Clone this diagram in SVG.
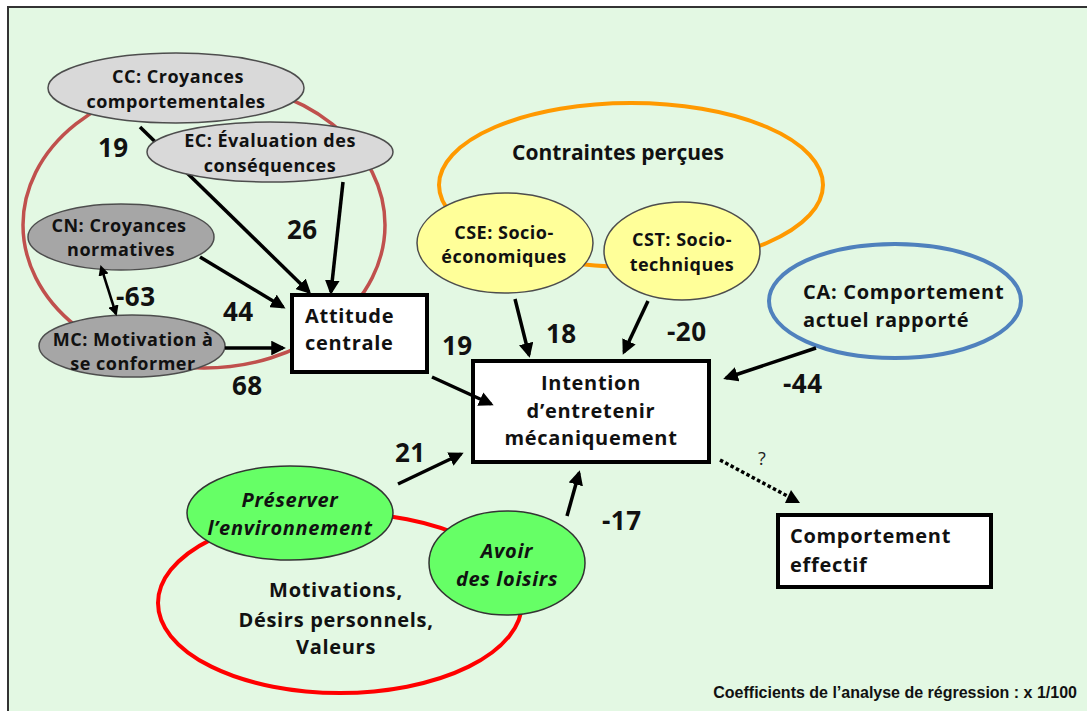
<svg xmlns="http://www.w3.org/2000/svg" width="1087" height="711" viewBox="0 0 1087 711">
  <style>
    .t { font-family: "Open Sans", "DejaVu Sans", sans-serif; font-weight: 700; fill: #111; }
    .n { font-size: 18px; letter-spacing: 0.5px; text-anchor: middle; }
    .b { font-size: 20px; letter-spacing: 0.7px; }
    .c { text-anchor: middle; }
    .num { font-family: "Open Sans", "DejaVu Sans", sans-serif; font-weight: 700; font-size: 26px; fill: #111; letter-spacing: 0.5px; }
    .it { font-style: italic; }
    .gray1 { fill: #d9d9d9; stroke: #4d4d4d; stroke-width: 1.5; }
    .gray2 { fill: #a6a6a6; stroke: #4d4d4d; stroke-width: 1.5; }
    .yel { fill: #ffff99; stroke: #4d4d4d; stroke-width: 1.5; }
    .grn { fill: #66ff66; stroke: #333; stroke-width: 1.5; }
    .box { fill: #fff; stroke: #000; stroke-width: 4; }
    .arr { stroke: #000; stroke-width: 3.5; fill: none; marker-end: url(#ah); }
  </style>
  <defs>
    <marker id="ah" viewBox="0 0 10 10" refX="8" refY="5" markerWidth="4.2" markerHeight="4.2" orient="auto">
      <path d="M0,0 L10,5 L0,10 z" fill="#000"/>
    </marker>
    <marker id="ahs" viewBox="0 0 10 10" refX="2" refY="5" markerWidth="4.2" markerHeight="4.2" orient="auto-start-reverse">
      <path d="M0,0 L10,5 L0,10 z" fill="#000"/>
    </marker>
  </defs>

  <!-- page background and frame -->
  <rect x="0" y="0" width="1087" height="711" fill="#ffffff"/>
  <rect x="8" y="7" width="1090" height="720" fill="#e3f8e3" stroke="#333" stroke-width="2"/>

  <!-- group outlines -->
  <g id="groups" fill="none">
    <ellipse cx="204" cy="225" rx="181" ry="143" stroke="#c0504d" stroke-width="3.5"/>
    <ellipse cx="631" cy="185" rx="192" ry="82" stroke="#ff9900" stroke-width="4"/>
    <ellipse cx="340" cy="603" rx="182" ry="90" stroke="#ff0000" stroke-width="4"/>
  </g>

  <!-- CC arrow runs beneath the EC ellipse -->
  <g id="connectors-back">
    <line class="arr" x1="140" y1="127" x2="309" y2="292"/>
  </g>

  <g id="node-cc">
    <ellipse class="gray1" cx="176" cy="88" rx="128" ry="35"/>
    <text class="t n" x="178" y="83">CC: Croyances</text>
    <text class="t n" x="176" y="108">comportementales</text>
  </g>
  <g id="node-ec">
    <ellipse class="gray1" cx="270" cy="152" rx="123" ry="30"/>
    <text class="t n" x="270" y="147">EC: Évaluation des</text>
    <text class="t n" x="270" y="172">conséquences</text>
  </g>
  <g id="node-cn">
    <ellipse class="gray2" cx="121" cy="237" rx="93" ry="33"/>
    <text class="t n" x="119" y="232">CN: Croyances</text>
    <text class="t n" x="121" y="256">normatives</text>
  </g>
  <g id="node-mc">
    <ellipse class="gray2" cx="132" cy="346" rx="93" ry="31"/>
    <text class="t n" x="133" y="346">MC: Motivation à</text>
    <text class="t n" x="133" y="370">se conformer</text>
  </g>
  <g id="node-attitude">
    <rect class="box" x="292" y="295" width="135" height="77"/>
    <text class="t b" x="305" y="323">Attitude</text>
    <text class="t b" x="305" y="350">centrale</text>
  </g>

  <text class="t c" x="618" y="160" font-size="21">Contraintes perçues</text>

  <g id="node-cse">
    <ellipse class="yel" cx="505" cy="243" rx="88" ry="50"/>
    <text class="t n" x="504" y="239">CSE: Socio-</text>
    <text class="t n" x="504" y="263">économiques</text>
  </g>
  <g id="node-cst">
    <ellipse class="yel" cx="682" cy="251" rx="78" ry="49"/>
    <text class="t n" x="682" y="246">CST: Socio-</text>
    <text class="t n" x="682" y="271">techniques</text>
  </g>
  <g id="node-ca">
    <ellipse cx="895" cy="301" rx="126" ry="57" fill="none" stroke="#4f81bd" stroke-width="4"/>
    <text class="t b" x="803" y="299">CA: Comportement</text>
    <text class="t b" x="803" y="327">actuel rapporté</text>
  </g>
  <g id="node-intention">
    <rect class="box" x="473" y="361" width="236" height="101"/>
    <text class="t b c" x="591" y="390">Intention</text>
    <text class="t b c" x="591" y="418">d’entretenir</text>
    <text class="t b c" x="591" y="445">mécaniquement</text>
  </g>

  <g id="node-preserver">
    <ellipse class="grn" cx="290" cy="513" rx="103" ry="47"/>
    <text class="t b it c" x="290" y="507">Préserver</text>
    <text class="t b it c" x="290" y="535">l’environnement</text>
  </g>
  <g id="node-loisirs">
    <ellipse class="grn" cx="507" cy="563" rx="78" ry="52"/>
    <text class="t b it c" x="507" y="558">Avoir</text>
    <text class="t b it c" x="507" y="586">des loisirs</text>
  </g>

  <g id="motivations-label">
    <text class="t b c" x="336" y="597">Motivations,</text>
    <text class="t b c" x="336" y="627">Désirs  personnels,</text>
    <text class="t b c" x="336" y="654">Valeurs</text>
  </g>

  <g id="node-comportement">
    <rect class="box" x="778" y="515" width="213" height="72"/>
    <text class="t b" x="790" y="543">Comportement</text>
    <text class="t b" x="790" y="572">effectif</text>
  </g>

  <!-- connectors -->
  <g id="connectors">
    <line class="arr" x1="343" y1="182" x2="331" y2="292"/>
    <line class="arr" x1="200" y1="257" x2="283" y2="307"/>
    <line class="arr" x1="225" y1="348" x2="283" y2="348"/>
    <line stroke="#000" stroke-width="2.5" marker-start="url(#ahs)" marker-end="url(#ah)" x1="103" y1="273" x2="116" y2="314"/>
    <line class="arr" x1="432" y1="377" x2="491" y2="404"/>
    <line class="arr" x1="515" y1="299" x2="529" y2="355"/>
    <line class="arr" x1="648" y1="301" x2="624" y2="352"/>
    <line class="arr" x1="816" y1="348" x2="726" y2="378"/>
    <line class="arr" x1="398" y1="484" x2="461" y2="454"/>
    <line class="arr" x1="567" y1="516" x2="579" y2="473"/>
    <line stroke="#000" stroke-width="3.5" stroke-dasharray="3.5 2.5" x1="720" y1="460" x2="793" y2="499"/>
    <path d="M791,490 L800,503 L785,503 z" fill="#000"/>
  </g>

  <!-- regression coefficients -->
  <g id="coefficients">
    <text class="num" x="98" y="157">19</text>
    <text class="num" x="287" y="239">26</text>
    <text class="num" x="223" y="321">44</text>
    <text class="num" x="116" y="306">-63</text>
    <text class="num" x="232" y="395">68</text>
    <text class="num" x="442" y="355">19</text>
    <text class="num" x="546" y="343">18</text>
    <text class="num" x="667" y="341">-20</text>
    <text class="num" x="783" y="393">-44</text>
    <text class="num" x="395" y="462">21</text>
    <text class="num" x="602" y="530">-17</text>
  </g>
  <text x="762" y="465" font-family="Open Sans, sans-serif" font-size="18" fill="#222" text-anchor="middle">?</text>

  <text x="1077" y="698" font-family="Liberation Sans, Arial, sans-serif" font-weight="700" font-size="16" fill="#111" text-anchor="end">Coefficients de l’analyse de régression : x 1/100</text>
</svg>
